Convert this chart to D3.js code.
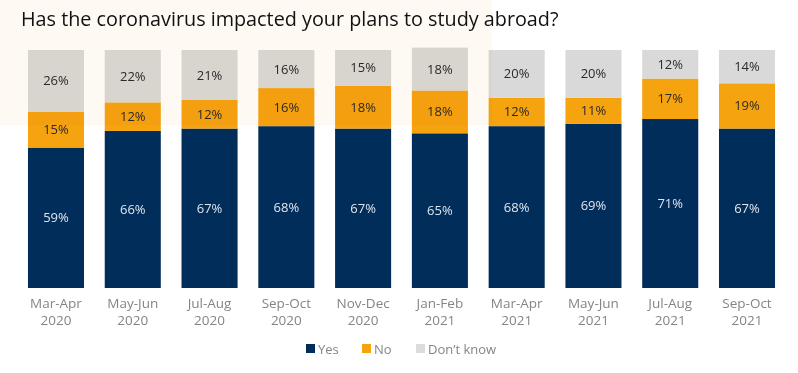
<!DOCTYPE html>
<html>
<head>
<meta charset="utf-8">
<title>Study abroad plans</title>
<script src="https://d3js.org/d3.v7.min.js"></script>
<style>
  body { margin: 0; background: #fff; }
  svg { display: block; font-family: "Open Sans", "Noto Sans", sans-serif; }
</style>
</head>
<body>
<script>
// periods on the x axis (two lines each)
var periods = ["Mar-Apr 2020", "May-Jun 2020", "Jul-Aug 2020", "Sep-Oct 2020", "Nov-Dec 2020",
               "Jan-Feb 2021", "Mar-Apr 2021", "May-Jun 2021", "Jul-Aug 2021", "Sep-Oct 2021"];
var yes      = [59, 66, 67, 68, 67, 65, 68, 69, 71, 67];
var no       = [15, 12, 12, 16, 18, 18, 12, 11, 17, 19];
var dontKnow = [26, 22, 21, 16, 15, 18, 20, 20, 12, 14];
var seriesNames = ["Yes", "No", "Don\u2019t know"];

var W = 798, H = 373;
var colors = ["#012d5a", "#f5a30f", "#d9d9d9"];
var labelColors = ["#dfe5ee", "#2a2a2a", "#2a2a2a"];

var svg = d3.select("body").append("svg")
  .attr("width", W)
  .attr("height", H);

var rows = periods.map(function(p, i) {
  return { period: p, Yes: yes[i], No: no[i], "Don\u2019t know": dontKnow[i] };
});

var stack = d3.stack().keys(seriesNames);
var layers = stack(rows);

var x = d3.scaleBand()
  .domain(periods)
  .range([17.6, 785.4])
  .paddingInner(0.27)
  .paddingOuter(0.135);

var y = d3.scaleLinear()
  .domain([0, 100])
  .range([288, 50]);

var g = svg.append("g");

var layer = g.selectAll("g.layer")
  .data(layers)
  .enter().append("g")
    .attr("class", "layer")
    .attr("fill", function(d, k) { return colors[k]; });

layer.selectAll("rect")
  .data(function(d) { return d; })
  .enter().append("rect")
    .attr("x", function(d) { return x(d.data.period); })
    .attr("width", x.bandwidth())
    .attr("y", function(d) { return y(d[1]); })
    .attr("height", function(d) { return y(d[0]) - y(d[1]); });

layer.each(function(L, k) {
  d3.select(this).selectAll("text")
    .data(L)
    .enter().append("text")
      .attr("x", function(d) { return x(d.data.period) + x.bandwidth() / 2; })
      .attr("y", function(d) { return (y(d[0]) + y(d[1])) / 2; })
      .attr("dy", "0.35em")
      .attr("text-anchor", "middle")
      .attr("font-size", 13)
      .attr("fill", labelColors[k])
      .text(function(d) { return (d[1] - d[0]) + "%"; });
});

// cream panel behind the title, blended over the bars
svg.append("rect")
  .attr("x", 0).attr("y", 0)
  .attr("width", 492).attr("height", 125)
  .attr("fill", "#fef9f3")
  .style("mix-blend-mode", "multiply");

svg.append("text")
  .attr("x", 21)
  .attr("y", 26)
  .attr("font-size", 19.8)
  .attr("font-weight", 500)
  .attr("fill", "#111")
  .text("Has the coronavirus impacted your plans to study abroad?");

// x axis labels
var xl = svg.append("g").selectAll("text")
  .data(periods)
  .enter().append("text")
    .attr("x", function(d) { return x(d) + x.bandwidth() / 2; })
    .attr("y", 308)
    .attr("text-anchor", "middle")
    .attr("font-size", 13.5)
    .attr("fill", "#858585");
xl.append("tspan").text(function(d) { return d.split(" ")[0]; });
xl.append("tspan")
  .attr("x", function(d) { return x(d) + x.bandwidth() / 2; })
  .attr("dy", 16.5)
  .text(function(d) { return d.split(" ")[1]; });

// legend
var legX = [306, 362, 416];
var leg = svg.append("g").selectAll("g")
  .data(seriesNames)
  .enter().append("g")
    .attr("transform", function(d, i) { return "translate(" + legX[i] + ",344)"; });
leg.append("rect")
  .attr("width", 9).attr("height", 9)
  .attr("fill", function(d, i) { return i == 2 ? "#dcdcdc" : colors[i]; });
leg.append("text")
  .attr("x", 12)
  .attr("y", 9.5)
  .attr("font-size", 13)
  .attr("fill", "#858585")
  .text(function(d) { return d; });
</script>
</body>
</html>
